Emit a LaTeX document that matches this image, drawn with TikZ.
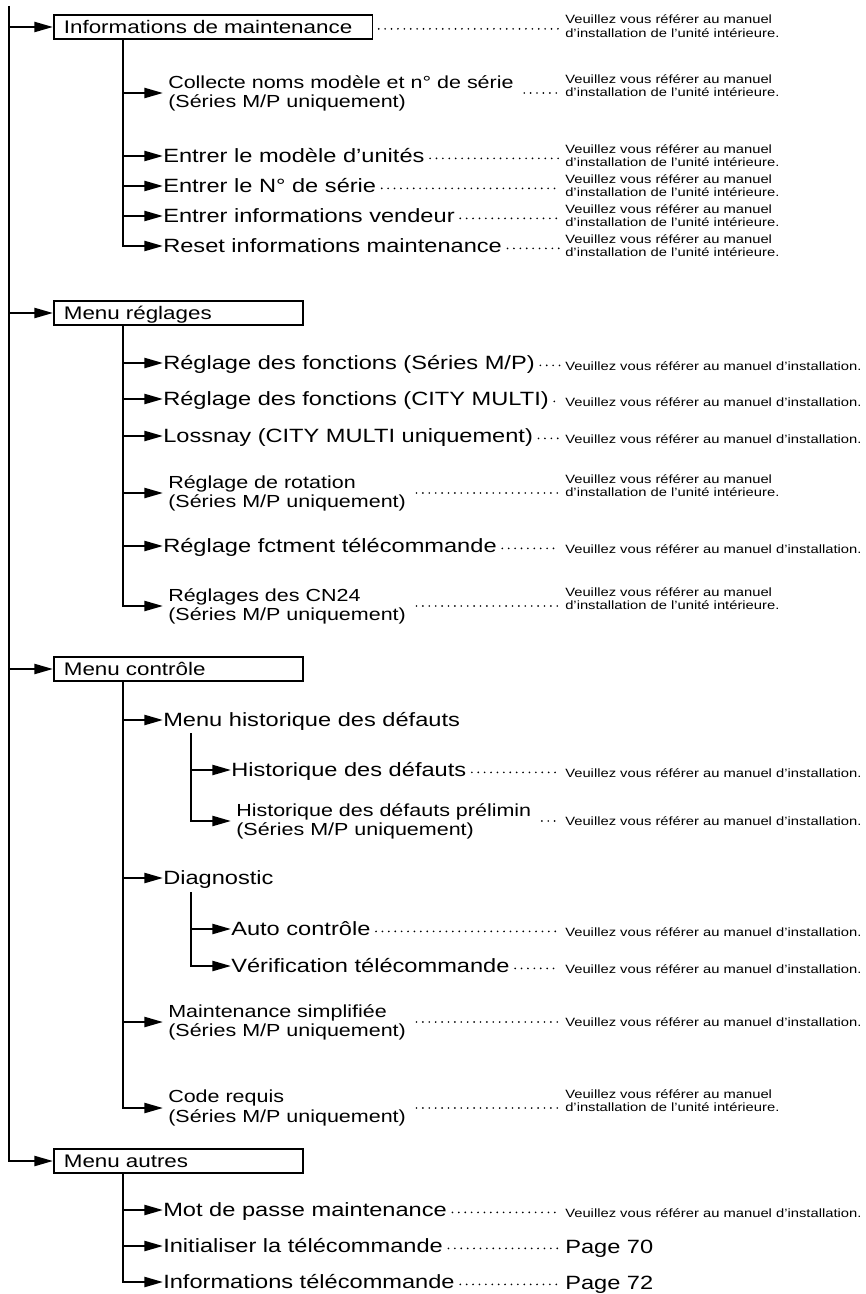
\documentclass[tikz,border=0pt]{standalone}
\usepackage{fontspec}
\setmainfont[FakeStretch=1.23]{Liberation Sans}
\usetikzlibrary{arrows.meta, calc}

% texts of the notes on the right
\newcommand{\uninote}{Veuillez vous référer au manuel\\d’installation de l’unité intérieure.}
\newcommand{\instnote}{Veuillez vous référer au manuel d’installation.}

\begin{document}
\begin{tikzpicture}[x=0.75pt, y=-0.75pt,
    % Define the styles for the menu tree
    menubox/.style={draw, line width=1.3pt, anchor=west, inner xsep=7.5pt, inner ysep=0pt,
        minimum height=18pt, text width=171.75pt, align=left, text height=9.8pt, text depth=0pt,
        font=\fontsize{13.65}{16}\selectfont},
    item/.style={anchor=west, inner sep=0pt, text height=10.2pt, text depth=0pt,
        font=\fontsize{14.4}{17}\selectfont},
    itemtwo/.style={anchor=west, inner xsep=3.75pt, inner ysep=0pt, align=left,
        font=\fontsize{13.1}{14.3}\selectfont},
    note/.style={anchor=base west, inner sep=0pt, font=\fontsize{9}{10.1}\selectfont},
    notetwo/.style={anchor=west, inner sep=0pt, align=left, font=\fontsize{9}{10.1}\selectfont},
    pagenum/.style={anchor=base west, inner sep=0pt, font=\fontsize{14.4}{17}\selectfont},
    bus/.style={line width=1.7pt},
    branch/.style={bus, -{Triangle[length=14pt, width=7.5pt]}},
    leader/.style={line width=1.4pt, line cap=round, dash pattern=on 0pt off 4.8pt,
        shorten <=4pt, shorten >=4pt},
    % dots at half x-height of a one line text
    raised/.style={transform canvas={yshift=3.5pt}}
]
\useasboundingbox (0,0) rectangle (865,1294);

% Define the bus lines and the note column
\coordinate (top) at (9,6);
\coordinate (subbus) at (123,0);
\coordinate (notecol) at (565,0);

% Informations de maintenance
\node[menubox, text width=224pt] (info) at (53,27) {Informations de maintenance};
\node[itemtwo] (collecte) at (163,93) {Collecte noms modèle et n° de série\\(Séries M/P uniquement)};
\node[item] (modele) at (163,156) {Entrer le modèle d’unités};
\node[item] (serie) at (163,186) {Entrer le N° de série};
\node[item] (vendeur) at (163,216) {Entrer informations vendeur};
\node[item] (resetinfo) at (163,246) {Reset informations maintenance};

% Menu reglages
\node[menubox] (reglages) at (53,313) {Menu réglages};
\node[item] (fonctmp) at (163,363) {Réglage des fonctions (Séries M/P)};
\node[item] (fonctcity) at (163,399) {Réglage des fonctions (CITY MULTI)};
\node[item] (lossnay) at (163,436) {Lossnay (CITY MULTI uniquement)};
\node[itemtwo] (rotation) at (163,493) {Réglage de rotation\\(Séries M/P uniquement)};
\node[item] (fctment) at (163,546) {Réglage fctment télécommande};
\node[itemtwo] (cn24) at (163,606) {Réglages des CN24\\(Séries M/P uniquement)};

% Menu controle
\node[menubox] (controle) at (53,669) {Menu contrôle};
\node[item] (histmenu) at (163,720) {Menu historique des défauts};
\node[item] (hist) at (231,770) {Historique des défauts};
\node[itemtwo] (prelim) at (231,821) {Historique des défauts prélimin\\(Séries M/P uniquement)};
\node[item] (diag) at (163,878) {Diagnostic};
\node[item] (auto) at (231,929) {Auto contrôle};
\node[item] (verif) at (231,966) {Vérification télécommande};
\node[itemtwo] (simpl) at (163,1022) {Maintenance simplifiée\\(Séries M/P uniquement)};
\node[itemtwo] (code) at (163,1108) {Code requis\\(Séries M/P uniquement)};

% Menu autres
\node[menubox] (autres) at (53,1161) {Menu autres};
\node[item] (motpasse) at (163,1210) {Mot de passe maintenance};
\node[item] (init) at (163,1246) {Initialiser la télécommande};
\node[item] (infotel) at (163,1282) {Informations télécommande};

% Main trunk
\draw[branch] (top) |- (autres.west);
\draw[branch] (info.west -| top) -- (info.west);
\draw[branch] (reglages.west -| top) -- (reglages.west);
\draw[branch] (controle.west -| top) -- (controle.west);

% Branches of Informations de maintenance
\draw[branch] (info.south -| subbus) |- (resetinfo.west);
\draw[branch] (collecte.west -| subbus) -- (collecte.west);
\draw[branch] (modele.west -| subbus) -- (modele.west);
\draw[branch] (serie.west -| subbus) -- (serie.west);
\draw[branch] (vendeur.west -| subbus) -- (vendeur.west);

% Branches of Menu reglages
\draw[branch] (reglages.south -| subbus) |- (cn24.west);
\draw[branch] (fonctmp.west -| subbus) -- (fonctmp.west);
\draw[branch] (fonctcity.west -| subbus) -- (fonctcity.west);
\draw[branch] (lossnay.west -| subbus) -- (lossnay.west);
\draw[branch] (rotation.west -| subbus) -- (rotation.west);
\draw[branch] (fctment.west -| subbus) -- (fctment.west);

% Branches of Menu controle
\draw[branch] (controle.south -| subbus) |- (code.west);
\draw[branch] (histmenu.west -| subbus) -- (histmenu.west);
\draw[branch] (diag.west -| subbus) -- (diag.west);
\draw[branch] (simpl.west -| subbus) -- (simpl.west);
\coordinate (histbus) at (191,733);
\draw[branch] (histbus) |- (prelim.west);
\draw[branch] (hist.west -| histbus) -- (hist.west);
\coordinate (diagbus) at (191,892);
\draw[branch] (diagbus) |- (verif.west);
\draw[branch] (auto.west -| diagbus) -- (auto.west);

% Branches of Menu autres
\draw[branch] (autres.south -| subbus) |- (infotel.west);
\draw[branch] (motpasse.west -| subbus) -- (motpasse.west);
\draw[branch] (init.west -| subbus) -- (init.west);

% Notes with their dotted leaders
\node[notetwo] (infonote) at ($(info.base east -| notecol)+(0,-7.2)$) {\uninote};
\draw[leader, raised] (info.base east) -- (info.base east -| notecol);
\node[notetwo] (collectenote) at ($(collecte.east -| notecol)+(0,-7.2)$) {\uninote};
\draw[leader] (collecte.east) -- (collecte.east -| notecol);
\node[notetwo] (modelenote) at ($(modele.south east -| notecol)+(0,-7.2)$) {\uninote};
\draw[leader, raised] (modele.south east) -- (modele.south east -| notecol);
\node[notetwo] (serienote) at ($(serie.south east -| notecol)+(0,-7.2)$) {\uninote};
\draw[leader, raised] (serie.south east) -- (serie.south east -| notecol);
\node[notetwo] (vendeurnote) at ($(vendeur.south east -| notecol)+(0,-7.2)$) {\uninote};
\draw[leader, raised] (vendeur.south east) -- (vendeur.south east -| notecol);
\node[notetwo] (resetnote) at ($(resetinfo.south east -| notecol)+(0,-7.2)$) {\uninote};
\draw[leader, raised] (resetinfo.south east) -- (resetinfo.south east -| notecol);

\node[note] (fonctmpnote) at (fonctmp.south east -| notecol) {\instnote};
\draw[leader, raised] (fonctmp.south east) -- (fonctmp.south east -| notecol);
\node[note] (fonctcitynote) at (fonctcity.south east -| notecol) {\instnote};
\draw[leader, raised] (fonctcity.south east) -- (fonctcity.south east -| notecol);
\node[note] (lossnaynote) at (lossnay.south east -| notecol) {\instnote};
\draw[leader, raised] (lossnay.south east) -- (lossnay.south east -| notecol);
\node[notetwo] (rotationnote) at ($(rotation.east -| notecol)+(0,-7.2)$) {\uninote};
\draw[leader] (rotation.east) -- (rotation.east -| notecol);
\node[note] (fctmentnote) at (fctment.south east -| notecol) {\instnote};
\draw[leader, raised] (fctment.south east) -- (fctment.south east -| notecol);
\node[notetwo] (cn24note) at ($(cn24.east -| notecol)+(0,-7.2)$) {\uninote};
\draw[leader] (cn24.east) -- (cn24.east -| notecol);

\node[note] (histnote) at (hist.south east -| notecol) {\instnote};
\draw[leader, raised] (hist.south east) -- (hist.south east -| notecol);
\node[note] (prelimnote) at ($(prelim.east -| notecol)+(0,4.7)$) {\instnote};
\draw[leader] (prelim.east) -- (prelim.east -| notecol);
\node[note] (autonote) at (auto.south east -| notecol) {\instnote};
\draw[leader, raised] (auto.south east) -- (auto.south east -| notecol);
\node[note] (verifnote) at (verif.south east -| notecol) {\instnote};
\draw[leader, raised] (verif.south east) -- (verif.south east -| notecol);
\node[note] (simplnote) at ($(simpl.east -| notecol)+(0,4.7)$) {\instnote};
\draw[leader] (simpl.east) -- (simpl.east -| notecol);
\node[notetwo] (codenote) at ($(code.east -| notecol)+(0,-7.2)$) {\uninote};
\draw[leader] (code.east) -- (code.east -| notecol);

\node[note] (motpassenote) at (motpasse.south east -| notecol) {\instnote};
\draw[leader, raised] (motpasse.south east) -- (motpasse.south east -| notecol);
\node[pagenum] (initpage) at (init.south east -| notecol) {Page 70};
\draw[leader, raised] (init.south east) -- (init.south east -| notecol);
\node[pagenum] (infotelpage) at (infotel.south east -| notecol) {Page 72};
\draw[leader, raised] (infotel.south east) -- (infotel.south east -| notecol);

\end{tikzpicture}
\end{document}
